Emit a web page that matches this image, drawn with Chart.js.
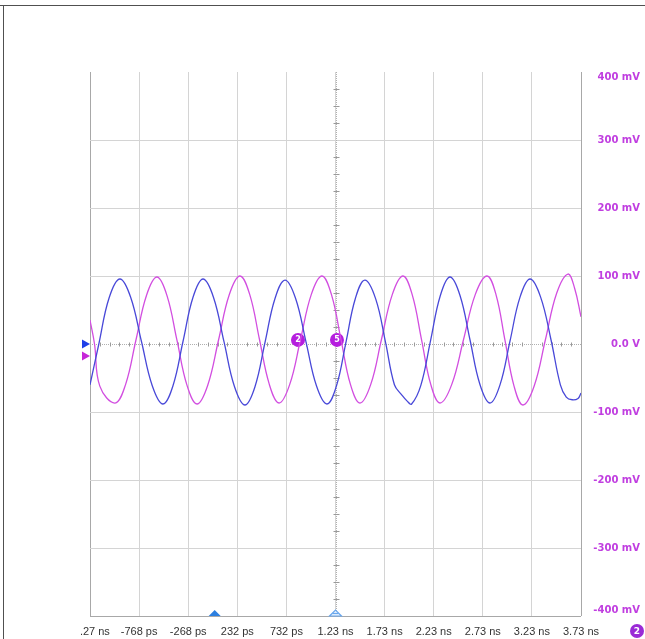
<!DOCTYPE html>
<html>
<head>
<meta charset="utf-8">
<script src="https://cdn.jsdelivr.net/npm/chart.js@4.4.1/dist/chart.umd.min.js"></script>
<style>
  html, body { margin: 0; padding: 0; background: #fff; }
  #wrap { position: relative; width: 645px; height: 639px; overflow: hidden; }
  #c { position: absolute; left: 0; top: 0; }
  .fr1 { position: absolute; left: 0; top: 5px; width: 645px; height: 1px; background: #505050; }
  .fr2 { position: absolute; left: 3px; top: 5px; width: 1px; height: 634px; background: #505050; }
</style>
</head>
<body>
<div id="wrap">
  <canvas id="c" width="645" height="639"></canvas>
  <div class="fr1"></div>
  <div class="fr2"></div>
</div>
<script>
// ---- data (time in ns, voltage in mV) ----
const xTickValues = [-1.27, -0.77, -0.27, 0.23, 0.73, 1.23, 1.73, 2.23, 2.73, 3.23, 3.73];
const xTickLabels = ['-1.27 ns', '-768 ps', '-268 ps', '232 ps', '732 ps', '1.23 ns', '1.73 ns', '2.23 ns', '2.73 ns', '3.23 ns', '3.73 ns'];
const yTickLabels = { '-400': '-400 mV', '-300': '-300 mV', '-200': '-200 mV', '-100': '-100 mV', '0': '0.0 V', '100': '100 mV', '200': '200 mV', '300': '300 mV', '400': '400 mV' };

const blueT = [-1.27, -1.18, -1.075, -0.965, -0.856, -0.746, -0.636, -0.527, -0.425, -0.323, -0.221, -0.119,
  -0.012, 0.095, 0.201, 0.308, 0.410, 0.512, 0.614, 0.716, 0.823, 0.930, 1.036, 1.143, 1.240, 1.337, 1.433, 1.530,
  1.640, 1.740, 1.830, 1.900, 1.960, 2.005, 2.099, 2.198, 2.297, 2.396, 2.498, 2.600, 2.701, 2.803,
  2.905, 3.007, 3.109, 3.211, 3.318, 3.425, 3.520, 3.580, 3.640, 3.700, 3.730];
const blueV = [-60, 0, 68, 95.6, 68.7, 3.7, -61.3, -88.2, -61.3, 3.7, 68.7, 95.6,
  68.5, 3, -62.5, -89.7, -62.8, 2.2, 67, 94, 67.3, 2.9, -61.5, -88.2, -61.5, 2.9, 67.3, 94,
  66, 2, -60, -74, -84, -88.2, -60.8, 5, 71, 98.5, 71.3, 5.9, -59.6, -86.8,
  -60.1, 4.4, 68.9, 95.6, 69.3, 5.9, -60, -78, -82, -80, -72];

const magT = [-1.27, -1.224, -1.17, -1.015, -0.908, -0.802, -0.695, -0.588, -0.486, -0.384, -0.282, -0.180,
  -0.071, 0.039, 0.148, 0.257, 0.357, 0.456, 0.556, 0.655, 0.764, 0.874, 0.983, 1.092, 1.189, 1.286, 1.382, 1.479,
  1.589, 1.698, 1.808, 1.917, 2.011, 2.106, 2.200, 2.294, 2.414, 2.534, 2.653, 2.773, 2.865, 2.956, 3.048, 3.139,
  3.254, 3.368, 3.482, 3.597, 3.665, 3.730];
const magV = [35, 0, -62, -86.8, -59.7, 5.9, 71.4, 98.5, 71.2, 5.2, -60.9, -88.2,
  -60.6, 5.9, 72.4, 100, 72.6, 6.6, -59.4, -86.8, -59.4, 6.6, 72.6, 100, 72.6, 6.6, -59.4, -86.8,
  -59.4, 6.6, 72.6, 100, 72.6, 6.6, -59.4, -86.8, -59.4, 6.6, 72.6, 100, 72.2, 5.2, -61.9, -89.7,
  -61.4, 6.6, 74.6, 102.9, 82, 40];

// markers
const markerT = [0.848, 1.245];
const markerV = [6, 6];
const markerLabels = ['2', '5'];
const chOffsetV = { blue: 0, magenta: -17.6 };
const triggerT = 0.0;
const referenceT = 1.23;

const BLUE = '#4848d8';
const MAG = '#d24ee0';
const LABEL_MAG = '#c03ee0';

function zip(t, v) { return t.map((x, i) => ({ x: x, y: v[i] })); }

const decorPlugin = {
  id: 'decor',
  beforeDraw(chart) {
    const ys = chart.scales.y;
    const items = ys.getLabelItems(chart.chartArea);
    items.forEach(it => {
      if (it.label === '400 mV') it.options.translation[1] += 5;
      if (it.label === '-400 mV') it.options.translation[1] -= 6;
    });
  },
  beforeDatasetsDraw(chart) {
    const ctx = chart.ctx, xs = chart.scales.x, ys = chart.scales.y, a = chart.chartArea;
    ctx.save();
    const y0 = Math.round(ys.getPixelForValue(0)) + 0.5;
    const xc = Math.round(xs.getPixelForValue(referenceT)) + 0.5;
    ctx.strokeStyle = '#b0b0b0';
    ctx.lineWidth = 1;
    ctx.setLineDash([1, 1]);
    ctx.beginPath(); ctx.moveTo(a.left, y0); ctx.lineTo(a.right, y0); ctx.stroke();
    ctx.beginPath(); ctx.moveTo(xc, a.top); ctx.lineTo(xc, a.bottom); ctx.stroke();
    ctx.setLineDash([]);
    ctx.strokeStyle = '#9a9a9a';
    for (let i = 0; i < xTickValues.length - 1; i++) {
      for (let k = 1; k < 5; k++) {
        const t = xTickValues[i] + k * 0.1;
        const px = Math.round(xs.getPixelForValue(t)) + 0.5;
        ctx.beginPath(); ctx.moveTo(px, y0 - 2); ctx.lineTo(px, y0 + 2); ctx.stroke();
      }
    }
    for (let v = -400; v < 400; v += 100) {
      for (let k = 1; k < 4; k++) {
        const py = Math.round(ys.getPixelForValue(v + k * 25)) + 0.5;
        ctx.beginPath(); ctx.moveTo(xc - 3, py); ctx.lineTo(xc + 3, py); ctx.stroke();
      }
    }
    ctx.restore();
  },
  afterDraw(chart) {
    const ctx = chart.ctx, xs = chart.scales.x, ys = chart.scales.y, a = chart.chartArea;
    ctx.save();
    ctx.fillStyle = '#fff';
    ctx.fillRect(4, a.bottom + 2, 76, 639 - a.bottom - 2);
    const meta = chart.getDatasetMeta(2);
    ctx.fillStyle = '#fff';
    ctx.font = 'bold 8px "DejaVu Sans"';
    ctx.textAlign = 'center'; ctx.textBaseline = 'middle';
    meta.data.forEach((p, i) => { ctx.fillText(markerLabels[i], p.x, p.y + 0.5); });
    const yb = ys.getPixelForValue(chOffsetV.blue);
    const ym = ys.getPixelForValue(chOffsetV.magenta);
    ctx.fillStyle = '#1f3fe8';
    ctx.beginPath(); ctx.moveTo(a.left - 8, yb - 4.5); ctx.lineTo(a.left, yb); ctx.lineTo(a.left - 8, yb + 4.5); ctx.closePath(); ctx.fill();
    ctx.fillStyle = '#c626d8';
    ctx.beginPath(); ctx.moveTo(a.left - 8, ym - 4.5); ctx.lineTo(a.left, ym); ctx.lineTo(a.left - 8, ym + 4.5); ctx.closePath(); ctx.fill();
    const xt = xs.getPixelForValue(triggerT);
    ctx.fillStyle = '#2c7fe0';
    ctx.beginPath(); ctx.moveTo(xt - 6, a.bottom); ctx.lineTo(xt, a.bottom - 6); ctx.lineTo(xt + 6, a.bottom); ctx.closePath(); ctx.fill();
    const xr = xs.getPixelForValue(referenceT);
    ctx.fillStyle = '#e8f2fd'; ctx.strokeStyle = '#6aa8ee'; ctx.lineWidth = 1.2;
    ctx.beginPath(); ctx.moveTo(xr - 6, a.bottom); ctx.lineTo(xr, a.bottom - 6); ctx.lineTo(xr + 6, a.bottom); ctx.closePath(); ctx.fill(); ctx.stroke();
    ctx.beginPath(); ctx.moveTo(xr - 3, a.bottom - 2.5); ctx.lineTo(xr + 3, a.bottom - 2.5); ctx.stroke();
    ctx.fillStyle = '#9a2ad6';
    ctx.beginPath(); ctx.arc(637, 631, 7, 0, Math.PI * 2); ctx.fill();
    ctx.fillStyle = '#fff';
    ctx.font = 'bold 9px "DejaVu Sans"';
    ctx.fillText('2', 637, 631.5);
    ctx.restore();
  }
};

new Chart(document.getElementById('c'), {
  type: 'line',
  data: {
    datasets: [
      { data: zip(blueT, blueV), borderColor: BLUE, borderWidth: 1.3, pointRadius: 0, tension: 0.4, fill: false },
      { data: zip(magT, magV), borderColor: MAG, borderWidth: 1.3, pointRadius: 0, tension: 0.4, fill: false },
      { type: 'scatter', data: zip(markerT, markerV), showLine: false, pointRadius: 7, pointBackgroundColor: '#b51ede', pointBorderColor: '#b51ede', borderWidth: 0 }
    ]
  },
  options: {
    responsive: false,
    animation: false,
    devicePixelRatio: 1,
    layout: { padding: { left: 90, top: 72, right: 5, bottom: 0 } },
    plugins: { legend: { display: false }, tooltip: { enabled: false } },
    scales: {
      x: {
        type: 'linear',
        min: -1.27, max: 3.73,
        afterBuildTicks: (s) => { s.ticks = xTickValues.map(v => ({ value: v })); },
        afterFit: (s) => { s.height = 23; },
        border: { display: false },
        grid: {
          drawTicks: false,
          color: (c) => (c.index === 0 || c.index === xTickValues.length - 1) ? '#a8a8a8' : '#d4d4d4',
        },
        ticks: {
          padding: 9,
          maxRotation: 0,
          autoSkip: false,
          color: '#333',
          font: { family: '"Liberation Sans", Arial, sans-serif', size: 11 },
          callback: (v, i) => xTickLabels[i]
        }
      },
      y: {
        type: 'linear',
        position: 'right',
        min: -400, max: 400,
        afterFit: (s) => { s.width = 59; },
        border: { display: false },
        grid: {
          drawTicks: false,
          color: (c) => {
            const v = c.tick ? c.tick.value : 0;
            if (v === 400) return 'rgba(0,0,0,0)';
            if (v === -400) return '#a8a8a8';
            if (v === 0) return 'rgba(0,0,0,0)';
            return '#d4d4d4';
          }
        },
        ticks: {
          stepSize: 100,
          crossAlign: 'far',
          padding: 2,
          color: LABEL_MAG,
          font: { family: '"DejaVu Sans", sans-serif', size: 10, weight: 'bold' },
          callback: (v) => yTickLabels[String(v)]
        }
      }
    }
  },
  plugins: [decorPlugin]
});
</script>
</body>
</html>
